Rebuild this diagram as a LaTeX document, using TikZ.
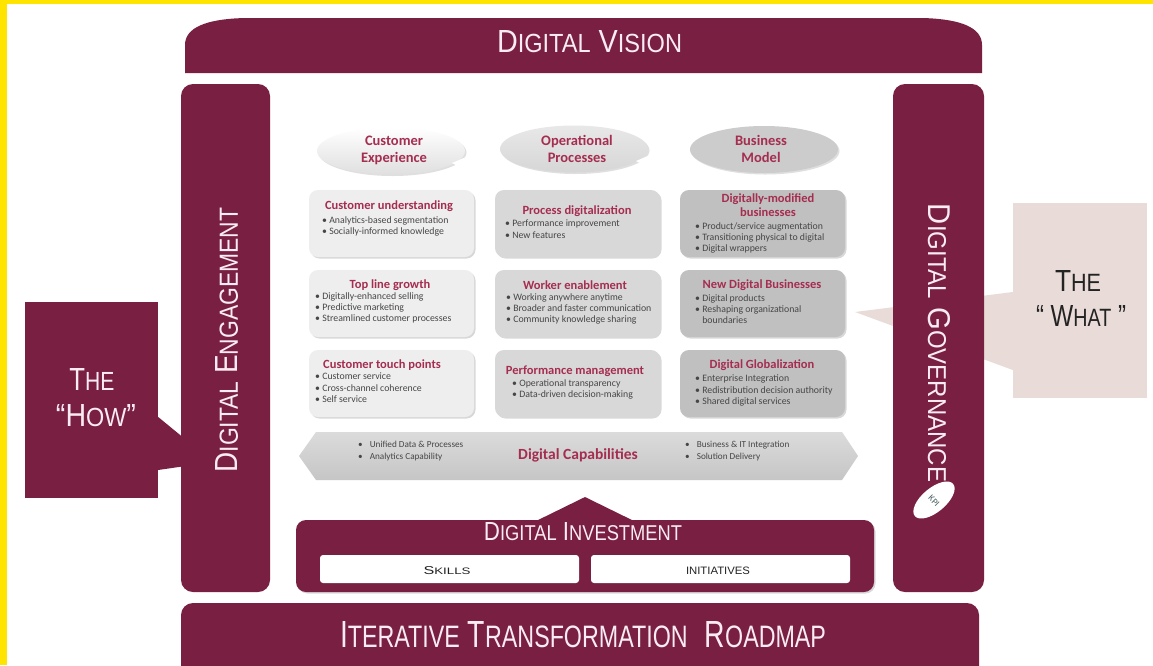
\documentclass[tikz,border=0pt]{standalone}
\usepackage{fontspec}
\usepackage{graphicx}
\setsansfont{Liberation Sans}
\newfontfamily\calfont{Carlito}
\usetikzlibrary{shapes.geometric,shadows}
\definecolor{maroon}{RGB}{120,31,66}
\definecolor{yel}{RGB}{255,228,0}
\definecolor{ttlc}{RGB}{165,45,80}
\definecolor{btxt}{RGB}{70,70,70}
\definecolor{cellA}{RGB}{238,238,238}
\definecolor{cellB}{RGB}{216,216,216}
\definecolor{cellC}{RGB}{192,192,192}
\definecolor{beige}{RGB}{233,220,216}
\definecolor{captc}{RGB}{250,236,242}
\definecolor{darkc}{RGB}{35,35,35}
\definecolor{kpic}{RGB}{70,95,95}
\newcommand\fsc[2]{{\fontsize{10}{12}\selectfont #1}{\fontsize{8.2}{10}\selectfont #2}}
\newcommand\rtxt[3]{\resizebox{#1pt}{#2pt}{\sffamily #3}}
\tikzset{
  mbar/.style={fill=maroon, rounded corners=12pt, inner sep=0pt},
  captxt/.style={inner sep=0pt, text=captc},
  cell/.style={rounded corners=9pt, inner sep=0pt, minimum width=165pt, minimum height=67pt,
    drop shadow={shadow xshift=1.5pt, shadow yshift=-1.5pt, opacity=0.3}},
  ttl/.style={font=\calfont\bfseries\fontsize{12.5}{14}\selectfont, text=ttlc, inner sep=0pt, align=center},
  blist/.style={font=\calfont\fontsize{9.8}{11.3}\selectfont, text=btxt, inner sep=0pt, align=left, anchor=north west},
  oval/.style={ellipse, inner sep=0pt, minimum width=148pt, minimum height=47pt,
    drop shadow={shadow xshift=1.5pt, shadow yshift=-1.5pt, opacity=0.25}},
  ovtxt/.style={font=\calfont\bfseries\fontsize{14.5}{17}\selectfont, text=ttlc, align=center, inner sep=0pt},
  small/.style={font=\calfont\fontsize{9.2}{12}\selectfont, text=btxt, inner sep=0pt, align=left, anchor=north west},
}
\begin{document}
\begin{tikzpicture}[x=1pt,y=-1pt]
\useasboundingbox (0,0) rectangle (1153,665);
\clip (0,0) rectangle (1153,665);
\fill[white] (0,0) rectangle (1153,665);
\fill[yel] (0,0) rectangle (1153,4);
\fill[yel] (0,0) rectangle (7,665);

% Digital Vision
\fill[maroon] (185,73) -- (185,45) .. controls (185,28) and (205,19) .. (245,18) -- (922,18) .. controls (962,19) and (982,28) .. (982,45) -- (982,73) -- cycle;
\node[captxt] (vision) at (589.5,42) {\rtxt{185}{22}{\fsc{D}{IGITAL} \fsc{V}{ISION}}};

% side bar (left)
\node[mbar, minimum width=89pt, minimum height=508pt] (engbar) at (225.5,338) {};

% The HOW callout
\node[fill=maroon, inner sep=0pt, minimum width=133pt, minimum height=196pt] (how) at (91.5,400) {};
\coordinate (howtip) at (213,462);
\fill[maroon] (how.east |- 0,417) -- (howtip) -- (how.east |- 0,470) -- cycle;
\node[captxt] (howthe) at (92,379) {\rtxt{45}{22}{\fsc{T}{HE}}};
\node[captxt] (howq) at (96,416) {\rtxt{80}{22}{\fontsize{10}{12}\selectfont``\fsc{H}{OW}\fontsize{10}{12}\selectfont''}};
\node[captxt, rotate=90] (engtxt) at (227,340) {\rtxt{265}{22}{\fsc{D}{IGITAL} \fsc{E}{NGAGEMENT}}};

% The WHAT callout (behind governance bar)
\node[fill=beige, inner sep=0pt, minimum width=134pt, minimum height=195pt] (what) at (1080,300.5) {};
\coordinate (whattip) at (855,312);
\fill[beige] (whattip) -- (what.west |- 0,292) -- (what.west |- 0,370) -- cycle;
\node[mbar, minimum width=91pt, minimum height=508pt] (govbar) at (938.5,338) {};
\node[inner sep=0pt, text=darkc] (whatthe) at (1078,281) {\rtxt{46}{21}{\fsc{T}{HE}}};
\node[inner sep=0pt, text=darkc] (whatq) at (1081,316) {\rtxt{90}{21}{\fontsize{10}{12}\selectfont`` \fsc{W}{HAT} ''}};
\node[captxt, rotate=-90] (govtxt) at (939,343) {\rtxt{278}{22}{\fsc{D}{IGITAL} \fsc{G}{OVERNANCE}}};
\fill[white, rotate around={40:(934,500)}] (934,500) ellipse [x radius=25, y radius=12];
\node[font=\calfont\fontsize{9}{9}\selectfont, text=kpic, rotate=-45, inner sep=0pt] (kpitxt) at (934,501) {KPI};

% Roadmap
\fill[maroon, rounded corners=12pt] (181,603) rectangle (979,700);
\node[captxt] (roadmap) at (583,635) {\rtxt{486}{26}{\fsc{I}{TERATIVE} \fsc{T}{RANSFORMATION}\hspace{0.6em}\fsc{R}{OADMAP}}};

% Digital Investment
\node[mbar, rounded corners=10pt, minimum width=578pt, minimum height=72pt,
  drop shadow={shadow xshift=1.5pt, shadow yshift=-1.5pt, opacity=0.3}] (invest) at (585,556) {};
\coordinate (apex) at (585,497);
\fill[maroon] (534,522) -- (apex) -- (636,522) -- cycle;
\node[captxt] (investtxt) at (583,532) {\rtxt{198}{18}{\fsc{D}{IGITAL} \fsc{I}{NVESTMENT}}};
\node[fill=white, rounded corners=3pt, minimum width=259pt, minimum height=28pt, inner sep=0pt] (skills) at (449.5,569) {};
\node[fill=white, rounded corners=3pt, minimum width=259pt, minimum height=28pt, inner sep=0pt] (init) at (720.5,569) {};
\node[inner sep=0pt, text=darkc] at (447,571) {\rtxt{47}{8}{\fsc{S}{KILLS}}};
\node[inner sep=0pt, text=darkc] at (718,571) {\rtxt{64}{7.5}{INITIATIVES}};

% Digital Capabilities banner
\shade[top color=gray!28, bottom color=gray!45] (299,456) -- (316,432) -- (842,432) -- (858,456) -- (842,480) -- (316,480) -- cycle;
\node[font=\calfont\bfseries\fontsize{15.5}{17}\selectfont, text=ttlc, inner sep=0pt] (digcap) at (578,455) {Digital Capabilities};
\node[small] (capl) at (358,441) {\textbullet\hspace{7pt}Unified Data \& Processes\\\textbullet\hspace{7pt}Analytics Capability};
\node[small] (capr) at (685,441) {\textbullet\hspace{7pt}Business \& IT Integration\\\textbullet\hspace{7pt}Solution Delivery};

% ovals
\node[oval, top color=white, bottom color=gray!25] (ce) at (391,151) {};
\fill[white] (466,157) -- (452,163) -- (466,170) -- cycle;
\node[ovtxt] at (394,150) {Customer\\Experience};
\node[oval, top color=gray!18, bottom color=gray!32] (op) at (574,149) {};
\fill[white] (650,155) -- (636,161) -- (650,168) -- cycle;
\node[ovtxt] at (577,149) {Operational\\Processes};
\node[oval, fill=gray!40] (bm) at (764,149.5) {};
\node[ovtxt] at (761,149) {Business\\Model};

% grid cells
\node[cell, fill=cellA] (a1) at (391.5,223.5) {};
\node[cell, fill=cellB] (b1) at (577.5,223.5) {};
\node[cell, fill=cellC] (c1) at (762.5,223.5) {};
\node[cell, fill=cellA] (a2) at (391.5,303.5) {};
\node[cell, fill=cellB] (b2) at (577.5,303.5) {};
\node[cell, fill=cellC] (c2) at (762.5,303.5) {};
\node[cell, fill=cellA] (a3) at (391.5,383.5) {};
\node[cell, fill=cellB] (b3) at (577.5,383.5) {};
\node[cell, fill=cellC] (c3) at (762.5,383.5) {};

\node[ttl] at (389,206) {Customer understanding};
\node[blist] at (322,216) {\textbullet\ Analytics-based segmentation\\\textbullet\ Socially-informed knowledge};
\node[ttl] at (577,211) {Process digitalization};
\node[blist] at (505,220) {\textbullet\ Performance improvement\\\textbullet\ New features};
\node[ttl] at (768,205) {Digitally-modified\\businesses};
\node[blist] at (695,222) {\textbullet\ Product/service augmentation\\\textbullet\ Transitioning physical to digital\\\textbullet\ Digital wrappers};

\node[ttl] at (390,285) {Top line growth};
\node[blist] at (315,292) {\textbullet\ Digitally-enhanced selling\\\textbullet\ Predictive marketing\\\textbullet\ Streamlined customer processes};
\node[ttl] at (575,285) {Worker enablement};
\node[blist] at (506,293) {\textbullet\ Working anywhere anytime\\\textbullet\ Broader and faster communication\\\textbullet\ Community knowledge sharing};
\node[ttl] at (762,285) {New Digital Businesses};
\node[blist] at (695,294) {\textbullet\ Digital products\\\textbullet\ Reshaping organizational\\\phantom{\textbullet\ }boundaries};

\node[ttl] at (382,365) {Customer touch points};
\node[blist] at (315,373) {\textbullet\ Customer service\\\textbullet\ Cross-channel coherence\\\textbullet\ Self service};
\node[ttl] at (575,371) {Performance management};
\node[blist] at (512,379) {\textbullet\ Operational transparency\\\textbullet\ Data-driven decision-making};
\node[ttl] at (762,365) {Digital Globalization};
\node[blist] at (695,375) {\textbullet\ Enterprise Integration\\\textbullet\ Redistribution decision authority\\\textbullet\ Shared digital services};
\end{tikzpicture}
\end{document}
